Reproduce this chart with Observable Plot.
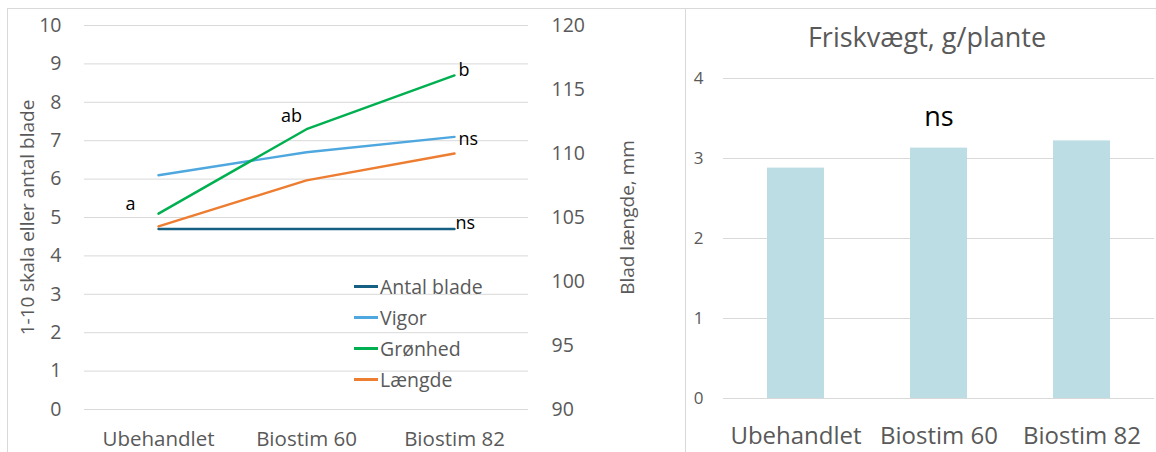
<!DOCTYPE html>
<html><head><meta charset="utf-8">
<script src="https://cdn.jsdelivr.net/npm/d3@7"></script>
<script src="https://cdn.jsdelivr.net/npm/@observablehq/plot@0.6"></script>
<style>
body{margin:0;width:1156px;height:452px;overflow:hidden;background:#fff;position:relative;font-family:"Open Sans",sans-serif;}
.panel{position:absolute;border:1px solid #d9d9d9;box-sizing:border-box;}
#left{left:7px;top:8px;width:679px;height:470px;}
#right{left:685px;top:8px;width:480px;height:470px;}
#chartL{position:absolute;left:7px;top:8px;}
#chartR{position:absolute;left:686px;top:56px;}
#title{position:absolute;left:727px;width:400px;top:21px;text-align:center;font-size:27px;line-height:32px;color:#595959;}
#legend{position:absolute;left:354px;top:271px;font-size:19.5px;color:#595959;}
.row{display:flex;align-items:center;height:31px;}
.sw{width:24px;height:2.5px;margin-right:2px;}
</style></head><body>
<div class="panel" id="left"></div>
<div class="panel" id="right"></div>
<div id="chartL"></div>
<div id="chartR"></div>
<div id="title">Friskvægt, g/plante</div>
<div id="legend"></div>
<script>
// ---- data ----
const categories = ["Ubehandlet", "Biostim 60", "Biostim 82"];
const seriesNames = ["Antal blade", "Vigor", "Grønhed", "Længde"];
const seriesColors = ["#156082", "#4EA7DE", "#00B050", "#ED7D31"];
const antalBlade = [4.7, 4.7, 4.7];
const vigor = [6.1, 6.7, 7.1];
const gronhed = [5.1, 7.3, 8.7];
const laengdeMm = [104.3, 107.9, 110.0];
const friskvaegt = [2.88, 3.13, 3.22];
const leftTicks = [0, 1, 2, 3, 4, 5, 6, 7, 8, 9, 10];
const rightTicks = [90, 95, 100, 105, 110, 115, 120];
const barTicks = [0, 1, 2, 3, 4];
const leftAxisTitle = "1-10 skala eller antal blade";
const rightAxisTitle = "Blad længde, mm";
const lineLabels = [
  {series: "Grønhed", cat: "Ubehandlet", text: "a"},
  {series: "Grønhed", cat: "Biostim 60", text: "ab"},
  {series: "Grønhed", cat: "Biostim 82", text: "b"},
  {series: "Vigor", cat: "Biostim 82", text: "ns"},
  {series: "Antal blade", cat: "Biostim 82", text: "ns"}
];
const barLabel = {cat: "Biostim 60", text: "ns"};

// ---- build ----
const rightMin = 90, rightMax = 120, leftMin = 0, leftMax = 10;
const toLeft = v => leftMin + (v - rightMin) * (leftMax - leftMin) / (rightMax - rightMin);
const toRight = v => rightMin + (v - leftMin) * (rightMax - rightMin) / (leftMax - leftMin);

const seriesValues = {
  "Antal blade": antalBlade,
  "Vigor": vigor,
  "Grønhed": gronhed,
  "Længde": laengdeMm.map(toLeft)
};
const rows = seriesNames.flatMap(s => categories.map((c, i) => ({series: s, cat: c, value: seriesValues[s][i]})));
const colorOf = Object.fromEntries(seriesNames.map((s, i) => [s, seriesColors[i]]));
const lab = lineLabels.map(d => ({...d, value: seriesValues[d.series][categories.indexOf(d.cat)]}));

const labelOffsets = [
  {dx: -28, dy: -9, anchor: "middle"},
  {dx: -15, dy: -13, anchor: "middle"},
  {dx: 4, dy: -5, anchor: "start"},
  {dx: 4, dy: 2, anchor: "start"},
  {dx: 1, dy: -6, anchor: "start"}
];

const left = Plot.plot({
  width: 679, height: 444,
  marginLeft: 77, marginRight: 158, marginTop: 17, marginBottom: 43,
  style: {fontFamily: "Open Sans", fontSize: "19.5px", color: "#595959", background: "transparent"},
  x: {type: "point", domain: categories, padding: 0.5},
  y: {domain: [leftMin, leftMax]},
  marks: [
    Plot.gridY(leftTicks, {stroke: "#d9d9d9", strokeOpacity: 1, strokeWidth: 1}),
    Plot.axisY({anchor: "left", ticks: leftTicks, tickFormat: d => d, tickSize: 0, tickPadding: 23, label: null}),
    Plot.axisY({anchor: "right", ticks: rightTicks.map(toLeft), tickFormat: d => Math.round(toRight(d)), tickSize: 0, tickPadding: 23, label: null, textAnchor: "start"}),
    Plot.axisX({tickSize: 0, tickPadding: 22, label: null, fontSize: 20.5}),
    ...seriesNames.map(s => Plot.line(rows.filter(d => d.series === s), {x: "cat", y: "value", stroke: colorOf[s], strokeWidth: 2.4})),
    ...lab.map((d, i) => Plot.text([d], {x: "cat", y: "value", text: "text", dx: labelOffsets[i].dx, dy: labelOffsets[i].dy, textAnchor: labelOffsets[i].anchor, fill: "#000", fontSize: 18})),
    Plot.text([leftAxisTitle], {frameAnchor: "left", textAnchor: "middle", rotate: -90, dx: -57, fontSize: 19, fill: "#595959"}),
    Plot.text([rightAxisTitle], {frameAnchor: "right", textAnchor: "middle", rotate: -90, dx: 99, fontSize: 19, fill: "#595959"})
  ]
});
document.getElementById("chartL").appendChild(left);

const barRows = categories.map((c, i) => ({cat: c, value: friskvaegt[i]}));
const right = Plot.plot({
  width: 470, height: 396,
  marginLeft: 37, marginRight: 2, marginTop: 22, marginBottom: 54,
  style: {fontFamily: "Open Sans", fontSize: "17px", color: "#595959", background: "transparent"},
  x: {domain: categories, paddingInner: 0.6, paddingOuter: 0.3},
  y: {domain: [0, 4]},
  marks: [
    Plot.gridY(barTicks, {stroke: "#d9d9d9", strokeOpacity: 1, strokeWidth: 1}),
    Plot.barY(barRows, {x: "cat", y: "value", fill: "#BDDDE4"}),
    Plot.axisY({ticks: barTicks, tickFormat: d => d, tickSize: 0, tickPadding: 20, label: null}),
    Plot.axisX({tickSize: 0, tickPadding: 28, label: null, fontSize: 24}),
    Plot.text([{cat: barLabel.cat, value: friskvaegt[categories.indexOf(barLabel.cat)], text: barLabel.text}],
      {x: "cat", y: "value", text: "text", dy: -31, fontSize: 27, fill: "#000"})
  ]
});
document.getElementById("chartR").appendChild(right);

// legend
const lg = document.getElementById("legend");
seriesNames.forEach((s, i) => {
  const r = document.createElement("div"); r.className = "row";
  const sw = document.createElement("span"); sw.className = "sw"; sw.style.background = seriesColors[i];
  const t = document.createElement("span"); t.textContent = s;
  r.appendChild(sw); r.appendChild(t); lg.appendChild(r);
});
</script>
</body></html>
